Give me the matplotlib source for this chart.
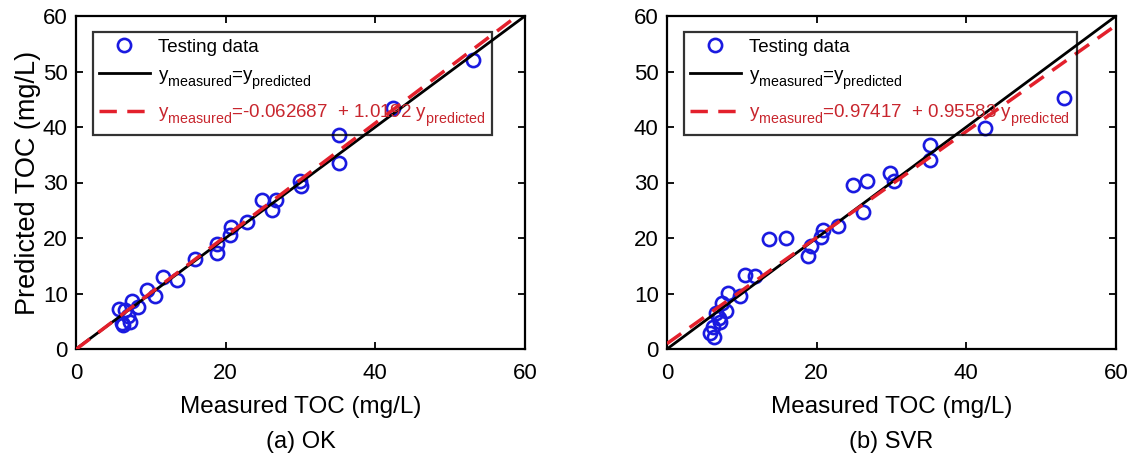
import numpy as np
import matplotlib
matplotlib.use("Agg")
import matplotlib.pyplot as plt
import matplotlib._mathtext as mathtext_internal

plt.rcParams["font.family"] = ["Liberation Sans", "DejaVu Sans"]
plt.rcParams["mathtext.fontset"] = "custom"
plt.rcParams["mathtext.rm"] = "Liberation Sans"
plt.rcParams["mathtext.it"] = "Liberation Sans"

# MATLAB-like subscripts: slightly larger and dropped lower
mathtext_internal.SHRINK_FACTOR = 0.76
mathtext_internal.FontConstantsBase.sub1 = 0.6

# measured vs predicted TOC (mg/L)
ok_measured = [5.7, 6.1, 6.3, 6.5, 7.0, 7.2, 7.5, 8.3, 9.5, 10.6, 11.6, 13.5,
               15.9, 18.8, 18.9, 20.6, 20.7, 22.8, 24.9, 26.2, 26.7, 29.9,
               30.1, 35.1, 35.2, 42.3, 53.0]
ok_predicted = [7.2, 4.7, 4.3, 7.1, 6.0, 4.9, 8.6, 7.6, 10.6, 9.6, 12.9, 12.4,
                16.3, 17.3, 18.9, 20.6, 21.9, 22.8, 26.8, 25.1, 26.9, 30.2,
                29.3, 33.6, 38.6, 43.5, 52.1]

svr_measured = [5.7, 6.3, 6.2, 7.1, 6.6, 7.0, 7.9, 7.3, 8.2, 9.7, 10.4, 11.7,
                13.6, 15.9, 18.8, 19.2, 20.6, 20.8, 22.9, 24.9, 26.2, 26.7,
                29.8, 30.3, 35.1, 35.2, 42.5, 53.0]
svr_predicted = [2.8, 2.2, 4.0, 4.9, 6.4, 5.6, 6.8, 8.3, 10.1, 9.6, 13.4, 13.1,
                 19.9, 20.0, 16.8, 18.5, 20.1, 21.5, 22.2, 29.6, 24.6, 30.2,
                 31.8, 30.2, 34.0, 36.7, 39.8, 45.3]

# regression lines y = a + b x
ok_fit = (-0.062687, 1.0192)
svr_fit = (0.97417, 0.95583)

panels = [
    ("(a) OK", ok_measured, ok_predicted, ok_fit, "-0.062687", "1.0192"),
    ("(b) SVR", svr_measured, svr_predicted, svr_fit, "0.97417", "0.95583"),
]

fig = plt.figure(figsize=(11.36, 4.59), dpi=100)
lefts = [76 / 1136, 667 / 1136]
red = "#e3202c"
red_text = "#c8262e"
sub_m = r"$_{\mathrm{measured}}$"
sub_p = r"$_{\mathrm{predicted}}$"

for i, (caption, xm, yp, fit, a_str, b_str) in enumerate(panels):
    ax = fig.add_axes([lefts[i], 110 / 459, 449 / 1136, 333 / 459])
    line_x = np.array([0, 60])
    ax.plot(xm, yp, "o", ls="none", mfc="none", mec="#1a1ae0", ms=9.5,
            mew=1.9, label="Testing data", zorder=3)
    ax.plot(line_x, line_x, "-", color="black", lw=2,
            label="y" + sub_m + "=y" + sub_p, zorder=4)
    ax.plot(line_x, fit[0] + fit[1] * line_x, "--", color=red, lw=2.5,
            dashes=(5, 3),
            label="y" + sub_m + "=" + a_str + "  + " + b_str + " y" + sub_p,
            zorder=5)

    ax.set_xlim(0, 60)
    ax.set_ylim(0, 60)
    ax.set_xticks([0, 20, 40, 60])
    ax.set_yticks(range(0, 61, 10))
    ax.tick_params(direction="in", top=True, right=True, length=5, width=1.3,
                   labelsize=16)
    ax.tick_params(axis="x", pad=10)
    ax.tick_params(axis="y", pad=6)
    for s in ax.spines.values():
        s.set_linewidth(1.6)

    ax.set_xlabel("Measured TOC (mg/L)", fontsize=17.5, labelpad=9)
    if i == 0:
        ax.set_ylabel("Predicted TOC (mg/L)", fontsize=19.5, labelpad=1)

    leg = ax.legend(loc="upper left", bbox_to_anchor=(0.037, 0.952),
                    borderaxespad=0, fontsize=13.5, frameon=True,
                    fancybox=False, handlelength=2.7, handletextpad=0.45,
                    labelspacing=0.6, borderpad=0.35)
    leg.get_frame().set_facecolor("none")
    leg.get_frame().set_edgecolor("black")
    leg.get_frame().set_linewidth(1.6)
    leg.get_texts()[2].set_color(red_text)

    fig.text(lefts[i] + 449 / 1136 / 2, 0.037, caption, ha="center",
             va="center", fontsize=17)

fig.savefig("out.png", dpi=100)
